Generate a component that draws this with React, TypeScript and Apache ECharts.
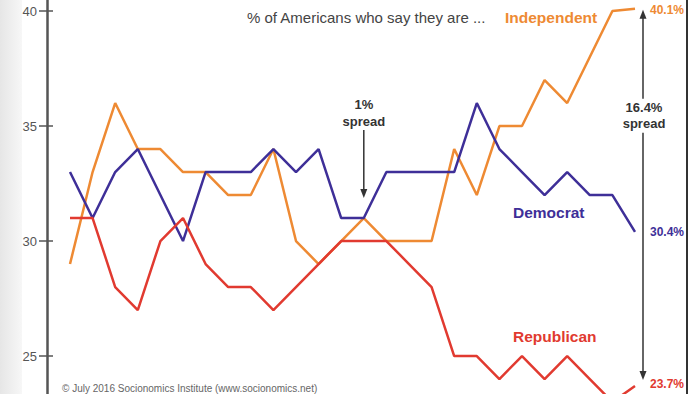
import React, { useEffect, useRef } from "react";
import * as echarts from "echarts";

const years = ["1991","1992","1993","1994","1995","1996","1997","1998","1999","2000","2001","2002","2003","2004","2005","2006","2007","2008","2009","2010","2011","2012","2013","2014","2015","2016"];
const independent = [29,33,36,34,34,33,33,32,32,34,30,29,30,31,30,30,30,34,32,35,35,37,36,38,40,40.1];
const democrat = [33,31,33,34,32,30,33,33,33,34,33,34,31,31,33,33,33,33,36,34,33,32,33,32,32,30.4];
const republican = [31,31,28,27,30,31,29,28,28,27,28,29,30,30,30,29,28,25,25,24,25,24,25,24,23,23.7];
const yTickValues = [25, 30, 35, 40];
const yMin = 23.35;
const yMax = 40.48;

const ORANGE = "#EE8A33";
const PURPLE = "#3E2F98";
const RED = "#E13A30";
const DARK = "#333333";

export default function App() {
  const ref = useRef<HTMLDivElement>(null);
  useEffect(() => {
    if (!ref.current) return;
    const chart = echarts.init(ref.current, null, { renderer: "svg" });
    const font = "Liberation Sans, Arial, sans-serif";
    const mkSeries = (name: string, data: number[], color: string, dy: number) => ({
      name,
      type: "line",
      data,
      symbol: "none",
      lineStyle: { color, width: 2.5 },
      itemStyle: { color },
      endLabel: {
        show: true,
        distance: 15,
        offset: [0, dy],
        formatter: (p: any) => p.value + "%",
        color,
        fontWeight: "bold",
        fontSize: 12,
        fontFamily: font,
      },
    });
    const baseY = { type: "value", min: yMin, max: yMax, splitLine: { show: false } };
    chart.setOption({
      animation: false,
      backgroundColor: "#ffffff",
      grid: { left: 70, right: 65, top: 0, bottom: 0, containLabel: false },
      xAxis: {
        type: "category",
        data: years,
        boundaryGap: false,
        show: false,
      },
      yAxis: [
        {
          ...baseY,
          offset: 23,
          axisLine: { show: true, lineStyle: { color: "#555", width: 2.5 } },
          axisTick: { show: true, inside: false, length: 8, customValues: yTickValues, lineStyle: { color: "#555", width: 1.5 } },
          axisLabel: { margin: 10, color: "#555", fontSize: 13, fontFamily: font, customValues: yTickValues },
        },
        {
          ...baseY,
          offset: 23,
          position: "left",
          axisLine: { show: false },
          axisTick: { show: true, inside: true, length: 6, customValues: yTickValues, lineStyle: { color: "#555", width: 1.5 } },
          axisLabel: { show: false },
        },
        {
          ...baseY,
          offset: 52,
          position: "right",
          axisLine: { show: true, lineStyle: { color: DARK, width: 2 } },
          axisTick: { show: false },
          axisLabel: { show: false },
        },
      ],
      series: [
        mkSeries("Independent", independent, ORANGE, 1),
        mkSeries("Democrat", democrat, PURPLE, 0),
        mkSeries("Republican", republican, RED, -2),
      ],
    });

    const px = (i: number, v: number) => chart.convertToPixel({ gridIndex: 0 }, [i, v]) as number[];
    const last = years.length - 1;

    // 1% spread arrow at the convergence point
    const ci = 13;
    const convTop = Math.max(independent[ci], democrat[ci], republican[ci]);
    const pConv = px(ci, convTop);
    const a1x = pConv[0];
    const a1tip = pConv[1] - 20;
    const a1top = a1tip - 68;

    // 16.4% spread arrow at the end
    const pTop = px(last, independent[last]);
    const pBot = px(last, republican[last]);
    const a2x = pTop[0] + 8;
    const a2top = pTop[1] + 1;
    const a2bot = pBot[1] - 6;
    const a2mid = (a2top + a2bot) / 2;

    const head = (x: number, tipY: number, dir: number) => ({
      type: "polygon",
      shape: { points: [[x, tipY], [x - 3.5, tipY - dir * 9], [x + 3.5, tipY - dir * 9]] },
      style: { fill: DARK },
      z: 20,
    });

    chart.setOption({
      graphic: [
        {
          type: "rect",
          shape: { x: 0, y: 0, width: 22, height: 394 },
          style: {
            fill: new echarts.graphic.LinearGradient(0, 0, 1, 0, [
              { offset: 0, color: "#e6e6e6" },
              { offset: 1, color: "#f7f7f7" },
            ]),
          },
          z: -10,
          silent: true,
        },
        {
          type: "text",
          x: 247,
          y: 17,
          style: { text: "% of Americans who say they are ...", fill: "#444", font: `15px ${font}`, verticalAlign: "middle" },
        },
        {
          type: "text",
          x: 505,
          y: 17,
          style: { text: "Independent", fill: ORANGE, font: `bold 15.5px ${font}`, verticalAlign: "middle" },
        },
        {
          type: "text",
          x: 513,
          y: 212,
          style: { text: "Democrat", fill: PURPLE, font: `bold 15.5px ${font}`, verticalAlign: "middle" },
        },
        {
          type: "text",
          x: 513,
          y: 336,
          style: { text: "Republican", fill: RED, font: `bold 15.5px ${font}`, verticalAlign: "middle" },
        },
        {
          type: "text",
          x: a1x,
          y: a1top - 26,
          style: { text: "1%", fill: DARK, font: `bold 13px ${font}`, align: "center", verticalAlign: "middle" },
        },
        {
          type: "text",
          x: a1x,
          y: a1top - 9,
          style: { text: "spread", fill: DARK, font: `bold 13px ${font}`, align: "center", verticalAlign: "middle" },
        },
        {
          type: "line",
          shape: { x1: a1x, y1: a1top, x2: a1x, y2: a1tip - 6 },
          style: { stroke: DARK, lineWidth: 1.5 },
          z: 20,
        },
        head(a1x, a1tip, 1),
        {
          type: "line",
          shape: { x1: a2x, y1: a2top + 6, x2: a2x, y2: a2bot - 6 },
          style: { stroke: DARK, lineWidth: 1.5 },
          z: 20,
        },
        head(a2x, a2top, -1),
        head(a2x, a2bot, 1),
        {
          type: "rect",
          shape: { x: a2x - 24, y: a2mid - 96, width: 48, height: 34 },
          style: { fill: "#ffffff" },
          z: 21,
        },
        {
          type: "text",
          x: a2x + 1,
          y: a2mid - 87,
          style: { text: "16.4%", fill: DARK, font: `bold 13px ${font}`, align: "center", verticalAlign: "middle" },
          z: 22,
        },
        {
          type: "text",
          x: a2x + 1,
          y: a2mid - 71,
          style: { text: "spread", fill: DARK, font: `bold 13px ${font}`, align: "center", verticalAlign: "middle" },
          z: 22,
        },
        {
          type: "text",
          x: 62,
          y: 383,
          style: { text: "© July 2016 Socionomics Institute (www.socionomics.net)", fill: "#666", font: `10px ${font}`, verticalAlign: "top" },
        },
      ],
    });

    return () => chart.dispose();
  }, []);
  return <div ref={ref} style={{ position: "absolute", left: 0, top: 0, width: 700, height: 394 }} />;
}
